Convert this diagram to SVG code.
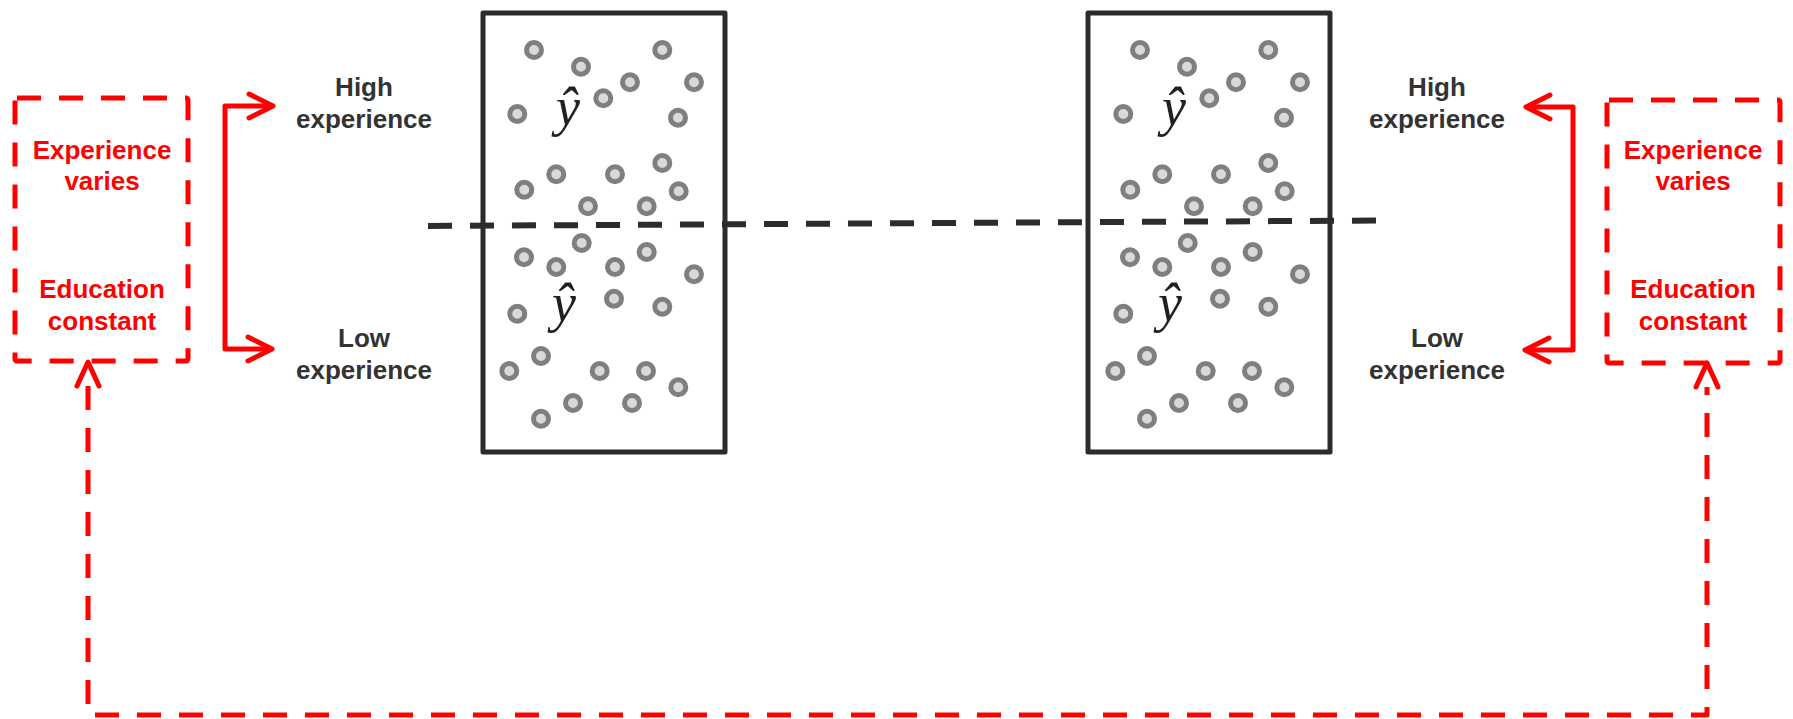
<svg xmlns="http://www.w3.org/2000/svg" width="1793" height="719" viewBox="0 0 1793 719">
<style>
.lbl{font-family:"Liberation Sans",Arial,sans-serif;font-weight:bold;font-size:26px;fill:#333333;text-anchor:middle}
.red{font-family:"Liberation Sans",Arial,sans-serif;font-weight:bold;font-size:26px;fill:#ff0000;text-anchor:middle}
.hat{font-family:"Liberation Serif","Times New Roman",serif;font-style:italic;font-size:54px;fill:#231f20;text-anchor:middle}
.panel{fill:#ffffff;stroke:#2f2b2c;stroke-width:5;stroke-linejoin:round}
.dot{fill:#d9d9d9;stroke:#7f7f7f;stroke-width:5}
.rbox{fill:none;stroke:#ff0000;stroke-width:5;stroke-dasharray:24 18;stroke-linejoin:round;stroke-linecap:butt}
.rline{fill:none;stroke:#ff0000;stroke-width:5;stroke-linejoin:round;stroke-linecap:round}
.rdash{fill:none;stroke:#ff0000;stroke-width:5;stroke-dasharray:24 18;stroke-linejoin:round}
.kdash{fill:none;stroke:#2f2b2c;stroke-width:6;stroke-dasharray:24 18}
</style>

<g id="panel-left">
<rect class="panel" x="483" y="13" width="242" height="439"/>
<g class="dots">
<circle class="dot" cx="534" cy="50" r="7.5"/>
<circle class="dot" cx="581" cy="66.7" r="7.5"/>
<circle class="dot" cx="662.3" cy="50" r="7.5"/>
<circle class="dot" cx="630" cy="82.3" r="7.5"/>
<circle class="dot" cx="694" cy="82.3" r="7.5"/>
<circle class="dot" cx="603.3" cy="98.3" r="7.5"/>
<circle class="dot" cx="517.3" cy="114" r="7.5"/>
<circle class="dot" cx="678" cy="117.7" r="7.5"/>
<circle class="dot" cx="556.3" cy="174.3" r="7.5"/>
<circle class="dot" cx="615" cy="174.3" r="7.5"/>
<circle class="dot" cx="662.3" cy="163" r="7.5"/>
<circle class="dot" cx="524.3" cy="189.7" r="7.5"/>
<circle class="dot" cx="678.7" cy="191.3" r="7.5"/>
<circle class="dot" cx="588" cy="206.3" r="7.5"/>
<circle class="dot" cx="646.7" cy="206.3" r="7.5"/>
<circle class="dot" cx="581.7" cy="243" r="7.5"/>
<circle class="dot" cx="646.7" cy="252" r="7.5"/>
<circle class="dot" cx="524" cy="257.3" r="7.5"/>
<circle class="dot" cx="556.3" cy="267" r="7.5"/>
<circle class="dot" cx="615" cy="267" r="7.5"/>
<circle class="dot" cx="694" cy="274.3" r="7.5"/>
<circle class="dot" cx="614" cy="298.7" r="7.5"/>
<circle class="dot" cx="517.3" cy="313.7" r="7.5"/>
<circle class="dot" cx="662.3" cy="306.7" r="7.5"/>
<circle class="dot" cx="541" cy="356" r="7.5"/>
<circle class="dot" cx="509.3" cy="371" r="7.5"/>
<circle class="dot" cx="599.7" cy="371" r="7.5"/>
<circle class="dot" cx="646" cy="371" r="7.5"/>
<circle class="dot" cx="678.3" cy="387.3" r="7.5"/>
<circle class="dot" cx="573" cy="403" r="7.5"/>
<circle class="dot" cx="632" cy="403" r="7.5"/>
<circle class="dot" cx="541" cy="418.7" r="7.5"/>
</g>
<text class="hat" x="568" y="125">ŷ</text>
<text class="hat" x="564" y="321">ŷ</text>
</g>

<g id="panel-right">
<rect class="panel" x="1088" y="13" width="242" height="439"/>
<g class="dots" transform="translate(606,0)">
<circle class="dot" cx="534" cy="50" r="7.5"/>
<circle class="dot" cx="581" cy="66.7" r="7.5"/>
<circle class="dot" cx="662.3" cy="50" r="7.5"/>
<circle class="dot" cx="630" cy="82.3" r="7.5"/>
<circle class="dot" cx="694" cy="82.3" r="7.5"/>
<circle class="dot" cx="603.3" cy="98.3" r="7.5"/>
<circle class="dot" cx="517.3" cy="114" r="7.5"/>
<circle class="dot" cx="678" cy="117.7" r="7.5"/>
<circle class="dot" cx="556.3" cy="174.3" r="7.5"/>
<circle class="dot" cx="615" cy="174.3" r="7.5"/>
<circle class="dot" cx="662.3" cy="163" r="7.5"/>
<circle class="dot" cx="524.3" cy="189.7" r="7.5"/>
<circle class="dot" cx="678.7" cy="191.3" r="7.5"/>
<circle class="dot" cx="588" cy="206.3" r="7.5"/>
<circle class="dot" cx="646.7" cy="206.3" r="7.5"/>
<circle class="dot" cx="581.7" cy="243" r="7.5"/>
<circle class="dot" cx="646.7" cy="252" r="7.5"/>
<circle class="dot" cx="524" cy="257.3" r="7.5"/>
<circle class="dot" cx="556.3" cy="267" r="7.5"/>
<circle class="dot" cx="615" cy="267" r="7.5"/>
<circle class="dot" cx="694" cy="274.3" r="7.5"/>
<circle class="dot" cx="614" cy="298.7" r="7.5"/>
<circle class="dot" cx="517.3" cy="313.7" r="7.5"/>
<circle class="dot" cx="662.3" cy="306.7" r="7.5"/>
<circle class="dot" cx="541" cy="356" r="7.5"/>
<circle class="dot" cx="509.3" cy="371" r="7.5"/>
<circle class="dot" cx="599.7" cy="371" r="7.5"/>
<circle class="dot" cx="646" cy="371" r="7.5"/>
<circle class="dot" cx="678.3" cy="387.3" r="7.5"/>
<circle class="dot" cx="573" cy="403" r="7.5"/>
<circle class="dot" cx="632" cy="403" r="7.5"/>
<circle class="dot" cx="541" cy="418.7" r="7.5"/>
</g>
<text class="hat" x="1174" y="125">ŷ</text>
<text class="hat" x="1170" y="321">ŷ</text>
</g>

<g id="divider">
<line class="kdash" x1="428" y1="226" x2="1377" y2="220.5"/>
</g>

<g id="box-left">
<rect class="rbox" x="15" y="98" width="173" height="263" rx="2"/>
<text class="red" x="102" y="159">Experience</text>
<text class="red" x="102" y="190">varies</text>
<text class="red" x="102" y="298">Education</text>
<text class="red" x="102" y="330">constant</text>
</g>

<g id="box-right">
<rect class="rbox" x="1607" y="100" width="173" height="263" rx="2"/>
<text class="red" x="1693" y="159">Experience</text>
<text class="red" x="1693" y="190">varies</text>
<text class="red" x="1693" y="298">Education</text>
<text class="red" x="1693" y="330">constant</text>
</g>

<g id="label-high-left"><text class="lbl" x="364" y="96">High</text><text class="lbl" x="364" y="128">experience</text></g>
<g id="label-low-left"><text class="lbl" x="364" y="347">Low</text><text class="lbl" x="364" y="379">experience</text></g>
<g id="label-high-right"><text class="lbl" x="1437" y="96">High</text><text class="lbl" x="1437" y="128">experience</text></g>
<g id="label-low-right"><text class="lbl" x="1437" y="347">Low</text><text class="lbl" x="1437" y="379">experience</text></g>

<g id="connectors">
<path class="rline" d="M271 106 H225 V349 H270"/>
<path class="rline" d="M249 94 L273 106 L249 118"/>
<path class="rline" d="M248 337 L272 349 L248 361"/>
<path class="rline" d="M1528 107 H1573 V350 H1527"/>
<path class="rline" d="M1550 95 L1526 107 L1550 119"/>
<path class="rline" d="M1549 338 L1525 350 L1549 362"/>
<path class="rdash" d="M88 386 V715 H1707 V387"/>
<path class="rline" d="M77 386 L88 362 L99 386"/>
<path class="rline" d="M1696 387 L1707 363 L1718 387"/>
</g>
</svg>
